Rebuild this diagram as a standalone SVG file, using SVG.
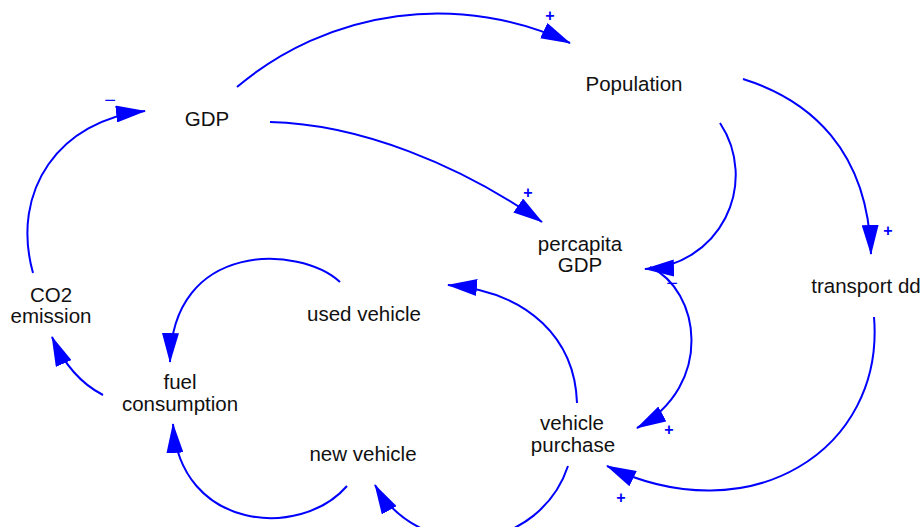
<svg xmlns="http://www.w3.org/2000/svg" width="922" height="527" viewBox="0 0 922 527">
<defs>
<marker id="ah" markerUnits="userSpaceOnUse" markerWidth="30" markerHeight="17" viewBox="0 0 30 17" refX="29" refY="8.5" orient="auto"><path d="M0,0 L30,8.5 L0,17 z" fill="#0000ff"/></marker>
</defs>
<style>
.lbl{font-family:"Liberation Sans",Arial,sans-serif;font-size:20.5px;fill:#111;text-anchor:middle}
.link{fill:none;stroke:#0000ff;stroke-width:2;marker-end:url(#ah)}
.pos{font-family:"Liberation Sans",Arial,sans-serif;font-size:16px;font-weight:bold;fill:#0000ff;text-anchor:middle}
.neg{font-family:"Liberation Sans",Arial,sans-serif;font-size:20px;fill:#0000ff;text-anchor:middle}
</style>
<rect width="922" height="527" fill="#ffffff"/>
<g id="connectors">
<path class="link" d="M237,87 A311,311 0 0 1 570,43"/>
<path class="link" d="M270,122 C360,124 460,165 542,222"/>
<path class="link" d="M720,123 A94,94 0 0 1 645,269"/>
<path class="link" d="M650,267 C700,290 715,385 637,428"/>
<path class="link" d="M743,79 C810,100 868,150 871,254"/>
<path class="link" d="M874,317 C885,450 750,535 607,466"/>
<path class="link" d="M577,403 C575,340 530,292 448,285"/>
<path class="link" d="M568,466 A106,106 0 0 1 375,485"/>
<path class="link" d="M340,282 C300,245 172,240 170,362"/>
<path class="link" d="M347,486 C300,540 180,530 173,424"/>
<path class="link" d="M103,395 Q70,378 52,337"/>
<path class="link" d="M33,273 C10,190 60,120 145,111"/>
<text class="pos" x="550" y="21">+</text>
<text class="pos" x="528" y="198">+</text>
<text class="pos" x="888" y="236">+</text>
<text class="pos" x="669" y="435">+</text>
<text class="pos" x="621" y="503">+</text>
<text class="neg" x="672" y="290">−</text>
<text class="neg" x="110" y="107">−</text>
</g>
<g id="gdp"><text class="lbl" x="207" y="126">GDP</text></g>
<g id="population"><text class="lbl" x="634" y="91">Population</text></g>
<g id="percapita-gdp"><text class="lbl" x="580" y="251">percapita</text><text class="lbl" x="580" y="272">GDP</text></g>
<g id="transport-dd"><text class="lbl" x="866" y="293">transport dd</text></g>
<g id="co2-emission"><text class="lbl" x="51" y="302">CO2</text><text class="lbl" x="51" y="323">emission</text></g>
<g id="used-vehicle"><text class="lbl" x="364" y="321">used vehicle</text></g>
<g id="fuel-consumption"><text class="lbl" x="180" y="389">fuel</text><text class="lbl" x="180" y="411">consumption</text></g>
<g id="new-vehicle"><text class="lbl" x="363" y="461">new vehicle</text></g>
<g id="vehicle-purchase"><text class="lbl" x="572" y="430">vehicle</text><text class="lbl" x="573" y="452">purchase</text></g>
</svg>
